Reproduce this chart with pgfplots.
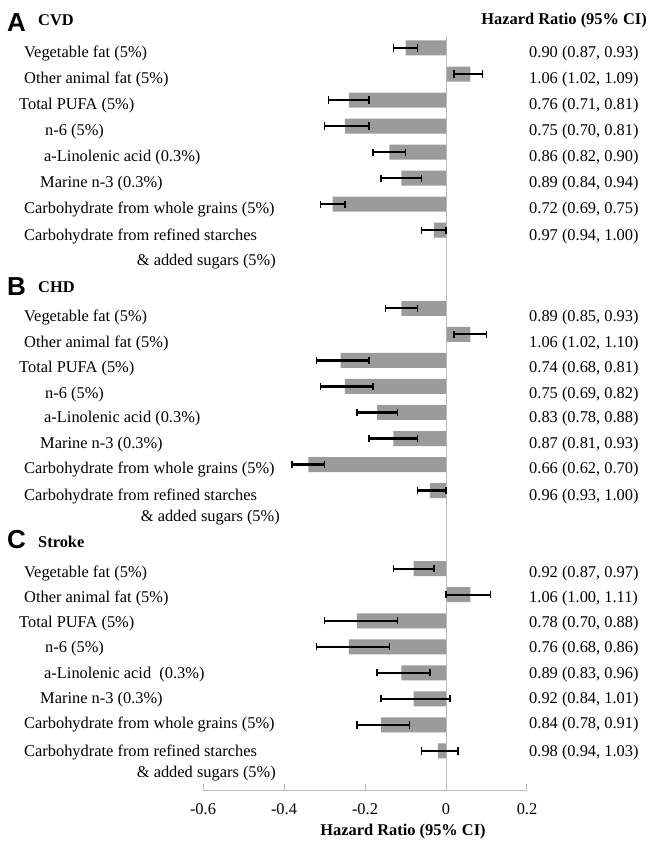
\documentclass[border=0pt]{standalone}
\usepackage{fontspec}
\setmainfont{Liberation Serif}
\newfontfamily\arial{Liberation Sans}
\usepackage{pgfplots}
\usepackage{pgfplotstable}
\pgfplotsset{compat=1.18}

\definecolor{barg}{RGB}{155,155,155}
\definecolor{axisg}{RGB}{185,185,185}

% row  HR  lower  upper   (rows 0-7 CVD, 10-17 CHD, 20-27 stroke)
\pgfplotstableread{
row hr   lo   hi
0   0.90 0.87 0.93
1   1.06 1.02 1.09
2   0.76 0.71 0.81
3   0.75 0.70 0.81
4   0.86 0.82 0.90
5   0.89 0.84 0.94
6   0.72 0.69 0.75
7   0.97 0.94 1.00
}\cvd
\pgfplotstableread{
row hr   lo   hi
10  0.89 0.85 0.93
11  1.06 1.02 1.10
12  0.74 0.68 0.81
13  0.75 0.69 0.82
14  0.83 0.78 0.88
15  0.87 0.81 0.93
16  0.66 0.62 0.70
17  0.96 0.93 1.00
}\chd
\pgfplotstableread{
row hr   lo   hi
20  0.92 0.87 0.97
21  1.06 1.00 1.11
22  0.78 0.70 0.88
23  0.76 0.68 0.86
24  0.89 0.83 0.96
25  0.92 0.84 1.01
26  0.84 0.78 0.91
27  0.98 0.94 1.03
}\stroke

\newcommand\lab[3]{\node[anchor=base west,inner sep=0pt] at (#1,#2) {#3};}
\newcommand\labr[3]{\node[anchor=base east,inner sep=0pt] at (#1,#2) {#3};}
\newcommand\panel[1]{\fontsize{26bp}{28bp}\arial\bfseries #1}

\pgfplotsset{
  hrbar/.style={xbar, bar width=15bp, bar shift=0pt, fill=barg, draw=none},
  hrci/.style={mark=none, draw=none,
    error bars/.cd, x dir=both, x explicit,
    error mark=|,
    error bar style={draw=black, line width=2.2bp},
    error mark options={draw=black, line width=1.5bp, mark size=3.6bp}},
}

\begin{document}
\fontsize{16.4bp}{19bp}\selectfont
\begin{tikzpicture}
\path[use as bounding box] (0,0) rectangle (649bp,-841bp);
\begin{axis}[
  at={(203bp,-790bp)}, anchor=south west,
  scale only axis, width=324bp, height=754bp,
  xmin=-0.6, xmax=0.2, ymin=-28.5, ymax=0.46,
  axis x line*=bottom, axis y line=none,
  x axis line style={axisg, line width=1bp, -},
  xtick={-0.6,-0.4,-0.2,0,0.2},
  xticklabels={-0.6,-0.4,-0.2,0,0.2},
  ytick=\empty,
  tick align=inside, major tick length=6bp,
  tick style={axisg, line width=1bp},
  xticklabel style={font=\fontsize{16.4bp}{19bp}\selectfont, yshift=-8bp},
]
\addplot[hrbar] table[x expr=\thisrow{hr}-1, y expr=-\thisrow{row}] \cvd;
\addplot[hrbar] table[x expr=\thisrow{hr}-1, y expr=-\thisrow{row}] \chd;
\addplot[hrbar] table[x expr=\thisrow{hr}-1, y expr=-\thisrow{row}] \stroke;
\draw[axisg, line width=1bp] (axis cs:0,0.46) -- (axis cs:0,-28.5);
\addplot[hrci] table[x expr=\thisrow{hr}-1, y expr=-\thisrow{row},
  x error plus expr=\thisrow{hi}-\thisrow{hr}, x error minus expr=\thisrow{hr}-\thisrow{lo}] \cvd;
\addplot[hrci] table[x expr=\thisrow{hr}-1, y expr=-\thisrow{row},
  x error plus expr=\thisrow{hi}-\thisrow{hr}, x error minus expr=\thisrow{hr}-\thisrow{lo}] \chd;
\addplot[hrci] table[x expr=\thisrow{hr}-1, y expr=-\thisrow{row},
  x error plus expr=\thisrow{hi}-\thisrow{hr}, x error minus expr=\thisrow{hr}-\thisrow{lo}] \stroke;
\end{axis}

\begin{scope}[x=1bp, y=-1bp]
% panel titles
\lab{7}{31}{\panel{A}}
\lab{38}{25}{\bfseries CVD}
\lab{7}{295}{\panel{B}}
\lab{38}{292}{\bfseries CHD}
\lab{7}{548}{\panel{C}}
\lab{38}{547}{\bfseries Stroke}
\labr{647}{24}{\bfseries Hazard Ratio (95\% CI)}
\node[anchor=base,inner sep=0pt] at (403,835) {\bfseries Hazard Ratio (95\% CI)};

% CVD
\lab{24}{57}{Vegetable fat (5\%)}
\lab{24}{83}{Other animal fat (5\%)}
\lab{19}{109}{Total PUFA (5\%)}
\lab{45}{135}{n-6 (5\%)}
\lab{44}{161}{a-Linolenic acid (0.3\%)}
\lab{40}{187}{Marine n-3 (0.3\%)}
\lab{24}{213}{Carbohydrate from whole grains (5\%)}
\lab{24}{240}{Carbohydrate from refined starches}
\labr{276}{265}{\& added sugars (5\%)}
\lab{529}{57}{0.90 (0.87, 0.93)}
\lab{529}{83}{1.06 (1.02, 1.09)}
\lab{529}{109}{0.76 (0.71, 0.81)}
\lab{529}{135}{0.75 (0.70, 0.81)}
\lab{529}{161}{0.86 (0.82, 0.90)}
\lab{529}{187}{0.89 (0.84, 0.94)}
\lab{529}{213}{0.72 (0.69, 0.75)}
\lab{529}{240}{0.97 (0.94, 1.00)}

% CHD
\lab{24}{321}{Vegetable fat (5\%)}
\lab{24}{347}{Other animal fat (5\%)}
\lab{19}{372}{Total PUFA (5\%)}
\lab{45}{398}{n-6 (5\%)}
\lab{44}{422}{a-Linolenic acid (0.3\%)}
\lab{40}{448}{Marine n-3 (0.3\%)}
\lab{24}{473}{Carbohydrate from whole grains (5\%)}
\lab{24}{500}{Carbohydrate from refined starches}
\labr{280}{521}{\& added sugars (5\%)}
\lab{529}{321}{0.89 (0.85, 0.93)}
\lab{529}{347}{1.06 (1.02, 1.10)}
\lab{529}{372}{0.74 (0.68, 0.81)}
\lab{529}{398}{0.75 (0.69, 0.82)}
\lab{529}{422}{0.83 (0.78, 0.88)}
\lab{529}{448}{0.87 (0.81, 0.93)}
\lab{529}{473}{0.66 (0.62, 0.70)}
\lab{529}{500}{0.96 (0.93, 1.00)}

% Stroke
\lab{24}{577}{Vegetable fat (5\%)}
\lab{24}{602}{Other animal fat (5\%)}
\lab{19}{627}{Total PUFA (5\%)}
\lab{45}{652}{n-6 (5\%)}
\lab{44}{678}{a-Linolenic acid\ \ (0.3\%)}
\lab{40}{703}{Marine n-3 (0.3\%)}
\lab{24}{728}{Carbohydrate from whole grains (5\%)}
\lab{24}{756}{Carbohydrate from refined starches}
\labr{276}{777}{\& added sugars (5\%)}
\lab{529}{577}{0.92 (0.87, 0.97)}
\lab{529}{602}{1.06 (1.00, 1.11)}
\lab{529}{627}{0.78 (0.70, 0.88)}
\lab{529}{652}{0.76 (0.68, 0.86)}
\lab{529}{678}{0.89 (0.83, 0.96)}
\lab{529}{703}{0.92 (0.84, 1.01)}
\lab{529}{728}{0.84 (0.78, 0.91)}
\lab{529}{756}{0.98 (0.94, 1.03)}
\end{scope}
\end{tikzpicture}
\end{document}
